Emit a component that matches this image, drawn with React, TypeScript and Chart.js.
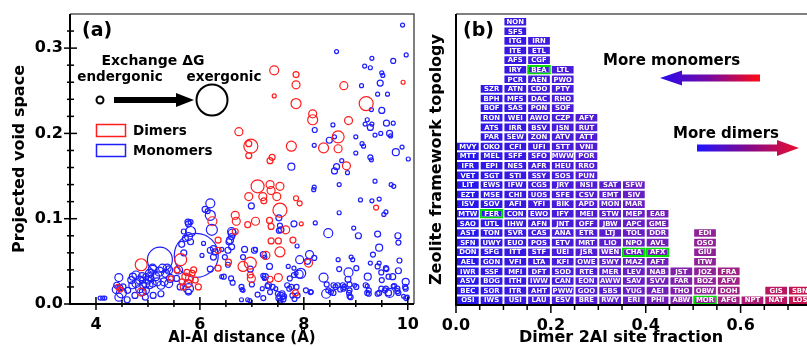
import React, { useEffect, useRef } from 'react';
import { Chart, registerables } from 'chart.js';

Chart.register(...registerables);

const FONT = '"DejaVu Sans", "Liberation Sans", sans-serif';

// ---------------- Panel (a) data ----------------
const aXMajorTicks = [4, 6, 8, 10];
const aYMajorTicks = [0, 0.1, 0.2, 0.3];
const aXMin = 3.5;
const aXMax = 10.12;
const aYMin = 0;
const aYMax = 0.34;

// [Al-Al distance, projected void space, bubble radius]
const dimers: [number, number, number][] = [
  [7.43, 0.274, 4.5], [7.85, 0.269, 3], [7.85, 0.257, 4], [8.77, 0.256, 4], [9.91, 0.26, 2],
  [7.43, 0.244, 2], [7.85, 0.235, 5], [9.2, 0.235, 7], [8.17, 0.223, 4], [8.17, 0.216, 5],
  [8.86, 0.215, 4], [6.75, 0.202, 4], [8.66, 0.196, 6], [6.94, 0.188, 3], [6.98, 0.185, 7],
  [7.76, 0.185, 5], [8.38, 0.183, 5], [8.66, 0.182, 4], [6.94, 0.174, 3], [7.39, 0.172, 3],
  [7.35, 0.168, 3], [8.82, 0.162, 4], [7.11, 0.138, 6.5], [7.35, 0.14, 4], [7.37, 0.133, 4],
  [7.54, 0.138, 4], [7.48, 0.126, 4], [6.94, 0.126, 4], [7.21, 0.126, 4], [7.23, 0.121, 3],
  [7.85, 0.124, 2.5], [7.92, 0.118, 2.5], [7.54, 0.11, 7], [9.39, 0.113, 2.5], [6.68, 0.104, 4],
  [6.7, 0.097, 4], [6.92, 0.093, 3], [7.07, 0.097, 4], [7.34, 0.098, 3], [7.37, 0.091, 3],
  [7.65, 0.087, 4], [7.95, 0.094, 2], [6.68, 0.085, 3], [6.24, 0.097, 4.5], [7.37, 0.074, 3],
  [7.51, 0.074, 3], [7.79, 0.075, 3], [7.54, 0.061, 5], [7.27, 0.057, 4], [6.83, 0.044, 5],
  [6.97, 0.048, 6], [6.55, 0.049, 3], [8.09, 0.048, 4], [6.99, 0.03, 4], [6.97, 0.034, 3],
  [7.35, 0.029, 3], [7.51, 0.031, 4], [7.84, 0.013, 3], [6.35, 0.075, 3], [6.35, 0.063, 3],
  [6.35, 0.042, 3], [4.42, 0.02, 2.5], [4.47, 0.017, 2.5], [4.87, 0.046, 6], [4.87, 0.014, 4],
  [5.63, 0.052, 6], [5.85, 0.036, 3], [5.72, 0.032, 3.5], [5.91, 0.028, 3], [5.78, 0.024, 3.5],
  [5.97, 0.02, 3], [5.66, 0.026, 3], [5.88, 0.04, 3], [5.56, 0.04, 3], [5.44, 0.03, 2.5],
  [5.8, 0.03, 4], [5.75, 0.037, 3], [5.68, 0.02, 3],
];

const monomers: [number, number, number][] = [
  [9.9, 0.327, 2], [8.63, 0.296, 2], [9.97, 0.292, 2], [9.31, 0.288, 2], [9.72, 0.285, 2.5],
  [9.17, 0.279, 2], [9.28, 0.277, 2], [9.5, 0.271, 2], [9.52, 0.268, 2], [9.11, 0.256, 2],
  [9.47, 0.259, 3], [9.42, 0.246, 2], [9.61, 0.246, 2], [9.3, 0.228, 2], [9.5, 0.227, 3],
  [9.22, 0.216, 2], [9.18, 0.211, 2], [9.31, 0.211, 2], [9.28, 0.207, 3], [9.59, 0.212, 3],
  [9.72, 0.212, 2], [8.56, 0.21, 2], [8.21, 0.204, 2.5], [9.37, 0.198, 2], [9.48, 0.2, 2],
  [9.65, 0.2, 3], [9.67, 0.197, 2], [8.59, 0.196, 2], [8.49, 0.192, 3], [9.0, 0.196, 2],
  [8.2, 0.186, 2], [9.12, 0.188, 2], [9.15, 0.185, 2], [9.89, 0.184, 2], [9.0, 0.177, 2],
  [9.77, 0.178, 3.5], [10.01, 0.17, 2], [9.28, 0.172, 2.5], [9.3, 0.169, 2], [8.73, 0.168, 2],
  [8.63, 0.161, 3], [8.59, 0.156, 3], [7.76, 0.161, 3.5], [8.84, 0.154, 2],
  [8.2, 0.137, 2], [8.19, 0.134, 2], [8.68, 0.14, 2], [9.37, 0.144, 2], [9.68, 0.14, 2],
  [9.73, 0.138, 2], [9.09, 0.122, 2], [9.31, 0.121, 2], [9.45, 0.123, 2], [6.99, 0.115, 3],
  [9.58, 0.108, 2], [9.54, 0.105, 2], [8.68, 0.107, 2], [7.54, 0.092, 2.5], [7.56, 0.087, 3],
  [7.81, 0.094, 3], [8.22, 0.095, 2], [8.47, 0.083, 4.5], [8.96, 0.089, 2], [9.05, 0.08, 3],
  [9.42, 0.082, 3], [9.45, 0.066, 3.5], [9.81, 0.08, 3], [9.82, 0.072, 2.5], [7.52, 0.101, 3],
  [7.52, 0.086, 2.5], [6.61, 0.085, 4], [6.61, 0.079, 3], [6.56, 0.073, 3], [6.54, 0.063, 3],
  [7.87, 0.068, 2], [6.86, 0.064, 3], [7.07, 0.064, 2], [7.22, 0.058, 3], [7.25, 0.055, 2],
  [7.34, 0.044, 3], [7.92, 0.052, 4], [8.66, 0.052, 2], [8.91, 0.055, 2], [8.94, 0.052, 2],
  [6.97, 0.041, 3], [7.7, 0.044, 2], [7.81, 0.042, 2], [7.91, 0.035, 4], [8.68, 0.041, 2.5],
  [8.86, 0.037, 4.5], [9.42, 0.044, 2.5], [9.23, 0.032, 3.5], [9.49, 0.037, 2.5], [9.5, 0.028, 2.5],
  [9.59, 0.041, 2.5], [9.63, 0.032, 2.5], [9.71, 0.032, 3], [9.82, 0.039, 3], [9.96, 0.026, 3.5],
  [9.01, 0.042, 2.5], [9.33, 0.058, 2.5], [9.28, 0.048, 2], [9.45, 0.048, 2], [9.58, 0.042, 2.5],
  [9.84, 0.051, 2.5], [8.11, 0.058, 4], [8.2, 0.054, 2.5], [8.07, 0.05, 3], [8.85, 0.029, 3],
  [7.22, 0.033, 2.5], [7.24, 0.03, 2], [7.73, 0.03, 2.5], [7.81, 0.034, 2.5], [7.85, 0.036, 2],
  [8.38, 0.031, 4.5], [8.44, 0.023, 2.5], [8.57, 0.022, 2.5], [8.61, 0.02, 2.5], [8.75, 0.022, 2.5],
  [8.78, 0.02, 2.5], [8.43, 0.012, 4.5], [8.52, 0.014, 2.5], [8.57, 0.013, 2.5], [8.88, 0.023, 2.5],
  [8.88, 0.016, 2.5], [8.88, 0.009, 2.5], [9.01, 0.02, 2.5], [9.22, 0.021, 2], [9.25, 0.016, 2.5],
  [9.25, 0.012, 2.5], [9.45, 0.013, 2.5], [9.58, 0.018, 2.5], [9.65, 0.013, 4.5], [9.74, 0.021, 2.5],
  [9.8, 0.018, 2.5], [9.82, 0.013, 2.5], [9.95, 0.02, 2.5], [9.97, 0.007, 2.5], [8.14, 0.014, 2],
  [8.47, 0.016, 2.5], [8.65, 0.022, 2.5], [8.7, 0.017, 2.5], [8.76, 0.018, 2.5], [8.87, 0.013, 2.5],
  [8.9, 0.008, 2.5], [8.98, 0.022, 2], [9.19, 0.022, 2.5], [9.22, 0.013, 2.5], [9.42, 0.012, 2.5],
  [9.49, 0.018, 2.5], [9.56, 0.016, 2.5], [9.63, 0.013, 3], [9.72, 0.021, 2], [9.8, 0.015, 2.5],
  [9.96, 0.018, 2.5], [9.92, 0.009, 2], [9.99, 0.008, 2],
  [6.8, 0.02, 2.5], [6.81, 0.017, 2], [6.92, 0.005, 2], [6.96, 0.004, 2], [7.11, 0.011, 2.5],
  [7.22, 0.007, 2.5], [7.3, 0.021, 2.5], [7.4, 0.02, 2.5], [7.35, 0.014, 2.5], [7.46, 0.018, 2],
  [7.56, 0.009, 4], [7.52, 0.007, 3], [7.58, 0.012, 3], [7.6, 0.006, 3], [7.5, 0.012, 2.5],
  [7.55, 0.004, 2.5], [7.62, 0.009, 2.5], [7.68, 0.022, 2.5], [7.72, 0.018, 2.5], [7.76, 0.02, 2.5],
  [7.86, 0.02, 2.5], [7.78, 0.01, 2.5], [7.82, 0.006, 2.5], [7.88, 0.01, 2.5], [8.13, 0.014, 2.5],
  [7.94, 0.036, 5], [6.42, 0.064, 2], [6.42, 0.032, 2], [6.83, 0.016, 2], [6.8, 0.005, 2],
  [7.2, 0.018, 2], [7.32, 0.022, 3], [7.0, 0.023, 2.5], [7.26, 0.032, 3], [8.04, 0.016, 2.5],
  [7.05, 0.063, 3], [6.83, 0.055, 2.5],
  [4.08, 0.007, 2], [4.13, 0.007, 2], [4.17, 0.007, 2], [4.44, 0.031, 4], [4.4, 0.022, 3],
  [4.46, 0.019, 3], [4.39, 0.017, 4], [4.49, 0.013, 5], [4.44, 0.008, 4], [4.52, 0.02, 3],
  [4.61, 0.016, 3], [4.68, 0.028, 3.5], [4.71, 0.032, 3.5], [4.77, 0.034, 4], [4.7, 0.022, 3.5],
  [4.77, 0.024, 4], [4.84, 0.028, 4], [4.89, 0.032, 4], [4.84, 0.018, 4], [4.91, 0.022, 3.5],
  [4.96, 0.024, 4], [4.99, 0.028, 4], [5.03, 0.032, 4], [4.9, 0.014, 3.5], [4.96, 0.016, 3.5],
  [4.9, 0.028, 3], [4.96, 0.032, 3], [5.03, 0.036, 4], [5.09, 0.04, 4.5], [5.15, 0.032, 4],
  [5.22, 0.038, 4.5], [5.28, 0.042, 4], [5.34, 0.036, 4], [5.4, 0.04, 4], [5.43, 0.03, 4],
  [5.4, 0.024, 4], [5.31, 0.026, 4], [5.25, 0.022, 4], [5.18, 0.026, 4], [5.09, 0.024, 3.5],
  [5.03, 0.022, 3.5], [5.06, 0.03, 3], [5.23, 0.052, 12.5], [5.09, 0.042, 4], [5.37, 0.042, 4],
  [5.93, 0.057, 22], [5.78, 0.094, 3], [5.77, 0.096, 3], [5.82, 0.096, 2.5], [5.82, 0.085, 5],
  [5.69, 0.085, 2.5], [5.72, 0.077, 3], [5.78, 0.079, 4], [5.82, 0.073, 3], [5.65, 0.07, 3],
  [5.69, 0.06, 3], [6.2, 0.118, 4.5], [6.1, 0.111, 3], [6.15, 0.109, 2.5], [6.2, 0.104, 5],
  [6.23, 0.087, 5.5], [6.07, 0.071, 2], [6.04, 0.057, 2], [6.2, 0.063, 3], [6.26, 0.065, 3],
  [6.29, 0.061, 3], [6.26, 0.055, 3], [6.2, 0.041, 3], [6.62, 0.083, 4], [6.58, 0.075, 3.5],
  [6.61, 0.067, 3], [6.48, 0.055, 2.5], [6.54, 0.046, 2.5], [6.46, 0.032, 2.5], [6.6, 0.03, 2.5],
  [6.63, 0.025, 2.5], [5.77, 0.024, 4], [5.78, 0.018, 5], [5.59, 0.04, 4], [5.78, 0.014, 3],
  [5.55, 0.03, 3], [5.62, 0.02, 3], [5.25, 0.012, 3], [5.1, 0.01, 3], [4.95, 0.008, 3],
  [4.6, 0.005, 3], [4.75, 0.01, 3],
];

// ---------------- Panel (b) data ----------------
const binWidth = 0.05;
const bXMajorTicks = [0, 0.2, 0.4, 0.6];
const bXMin = 0;
const bXMax = 0.74;
const bYMax = 30.3;
// zeolite codes per dimer-fraction bin, listed bottom to top
const bin000 = ['OSI', 'BEC', 'ASV', 'IWR', 'AEL', 'DON', 'SFN', 'AST', 'SAO', 'MTW', 'ISV', 'EZT', 'LIT', 'VET', 'IFR', 'MTT', 'MVY'];
const bin005 = ['IWS', 'SOR', 'BOG', 'SSF', 'GON', 'SFG', 'UWY', 'TON', 'UTL', 'FER', 'SOV', 'MSE', 'EWS', 'SGT', 'EPI', 'MEL', 'OKO', 'PAR', 'ATS', 'RON', 'BOF', 'BPH', 'SZR'];
const bin010 = ['USI', 'ITR', 'ITH', 'MFI', 'VFI', 'ITT', 'EUO', 'SVR', 'IHW', 'CON', 'AFI', 'CHI', 'IFW', 'STI', 'NES', 'SFF', 'CFI', 'SEW', 'IRR', 'WEI', 'SAS', 'MFS', 'ATN', 'PCR', 'IRY', 'AFS', 'ITE', 'ITG', 'SFS', 'NON'];
const bin015 = ['LAU', 'AHT', 'IWW', 'DFT', 'LTA', 'STF', 'POS', 'CAS', 'AFN', 'EWO', 'YFI', 'UOS', 'CGS', 'SSY', 'AFR', 'SFO', 'UFI', 'ZON', 'BSV', 'AWO', 'PON', 'DAC', 'CDO', 'AEN', 'BEA', 'CGF', 'ETL', 'IRN'];
const bin020 = ['ESV', 'PWW', 'CAN', 'SOD', 'KFI', 'UEI', 'ETV', 'ANA', 'JNT', 'IFY', 'BIK', 'SFE', 'JRY', 'SOS', 'HEU', 'MWW', 'STT', 'ATV', 'JSN', 'CZP', 'SOF', 'RHO', 'PTY', 'PWO', 'LTL'];
const bin025 = ['BRE', 'GOO', 'EON', 'RTE', 'OWE', 'JSR', 'MRT', 'ETR', 'OFF', 'MEI', 'APD', 'CSV', 'NSI', 'PUN', 'RRO', 'POR', 'VNI', 'ATT', 'RUT', 'AFY'];
const bin030 = ['RWY', 'SBS', 'AWW', 'MER', 'SWY', 'WEN', 'LIO', 'LTJ', 'JBW', 'STW', 'MON', 'EMT', 'SAT'];
const bin035 = ['ERI', 'YUG', 'SAV', 'LEV', 'MAZ', 'CHA', 'NPO', 'TOL', 'APC', 'MEP', 'MAR', 'SIV', 'SFW'];
const bin040 = ['PHI', 'AEI', 'SVV', 'NAB', 'AFT', 'AFX', 'AVL', 'DDR', 'GME', 'EAB'];
const bin045 = ['ABW', 'THO', 'FAR', 'JST'];
const bin050 = ['MOR', 'OBW', 'BOZ', 'JOZ', 'ITW', 'GIU', 'OSO', 'EDI'];
const bin055 = ['AFG', 'DOH', 'AFV', 'FRA'];
const bin060 = ['NPT'];
const bin065 = ['NAT', 'GIS'];
const bin070 = ['LOS', 'SBN'];
const bins = [bin000, bin005, bin010, bin015, bin020, bin025, bin030, bin035, bin040, bin045, bin050, bin055, bin060, bin065, bin070];
const highlighted = ['BEA', 'FER', 'CHA', 'AFX', 'MOR'];

// colour stops for the fraction → colour map
const colorStops: [number, number[]][] = [
  [0, [36, 22, 238]],
  [0.3, [86, 28, 210]],
  [0.45, [120, 32, 180]],
  [0.55, [152, 35, 142]],
  [0.75, [205, 15, 70]],
];

function colorFor(f: number) {
  for (let i = 1; i < colorStops.length; i++) {
    const [f1, c1] = colorStops[i];
    const [f0, c0] = colorStops[i - 1];
    if (f <= f1 || i === colorStops.length - 1) {
      const t = Math.max(0, Math.min(1, (f - f0) / (f1 - f0)));
      const c = c0.map((v, k) => Math.round(v + (c1[k] - v) * t));
      return `rgb(${c[0]},${c[1]},${c[2]})`;
    }
  }
  return 'blue';
}

const isMajor = (v: number, majors: number[]) => majors.some((m) => Math.abs(m - v) < 1e-6);

// ---------------- Plugins ----------------
const frameA = {
  id: 'frameA',
  afterDraw(chart: any) {
    const { ctx, chartArea, scales } = chart;
    const { left, right, top, bottom } = chartArea;
    ctx.save();
    ctx.strokeStyle = '#555';
    ctx.lineWidth = 1.5;
    ctx.beginPath();
    ctx.moveTo(left, top);
    ctx.lineTo(right, top);
    ctx.lineTo(right, bottom);
    ctx.stroke();
    ctx.strokeStyle = '#000';
    ctx.lineWidth = 2;
    ctx.beginPath();
    ctx.moveTo(left, top);
    ctx.lineTo(left, bottom);
    ctx.lineTo(right, bottom);
    ctx.stroke();
    ctx.lineWidth = 1.5;
    scales.x.ticks.forEach((t: any) => {
      const px = scales.x.getPixelForValue(t.value);
      const major = isMajor(t.value, aXMajorTicks);
      ctx.beginPath();
      ctx.moveTo(px, bottom - (major ? 7 : 4));
      ctx.lineTo(px, bottom + (major ? 6 : 3));
      ctx.stroke();
    });
    scales.y.ticks.forEach((t: any) => {
      const py = scales.y.getPixelForValue(t.value);
      const major = isMajor(t.value, aYMajorTicks);
      ctx.beginPath();
      ctx.moveTo(left - (major ? 6 : 3), py);
      ctx.lineTo(left + (major ? 7 : 4), py);
      ctx.stroke();
    });

    // annotations / legend
    ctx.fillStyle = '#000';
    ctx.textBaseline = 'middle';
    ctx.textAlign = 'left';
    ctx.font = `bold 19px ${FONT}`;
    ctx.fillText('(a)', 82, 31);
    ctx.textAlign = 'center';
    ctx.font = `bold 14px ${FONT}`;
    ctx.fillText('Exchange ΔG', 153, 61);
    ctx.font = `bold 13.5px ${FONT}`;
    ctx.fillText('endergonic', 120, 77);
    ctx.fillText('exergonic', 224, 77);
    ctx.lineWidth = 2;
    ctx.strokeStyle = '#000';
    ctx.beginPath();
    ctx.arc(100, 100, 3.5, 0, Math.PI * 2);
    ctx.stroke();
    ctx.beginPath();
    ctx.arc(212, 100, 15.5, 0, Math.PI * 2);
    ctx.stroke();
    ctx.fillRect(114, 97, 64, 6);
    ctx.beginPath();
    ctx.moveTo(176, 93);
    ctx.lineTo(194, 100);
    ctx.lineTo(176, 107);
    ctx.closePath();
    ctx.fill();
    ctx.lineWidth = 1.5;
    ctx.strokeStyle = 'rgb(255,30,30)';
    ctx.strokeRect(96.5, 124.5, 29, 12);
    ctx.strokeStyle = 'rgb(30,30,255)';
    ctx.strokeRect(96.5, 144.5, 29, 12);
    ctx.textAlign = 'left';
    ctx.font = `bold 13.5px ${FONT}`;
    ctx.fillText('Dimers', 133, 131);
    ctx.fillText('Monomers', 133, 151);
    ctx.restore();
  },
};

const cellLabels = {
  id: 'cellLabels',
  afterDatasetsDraw(chart: any) {
    const { ctx } = chart;
    const meta = chart.getDatasetMeta(0);
    const data = chart.data.datasets[0].data as any[];
    ctx.save();
    ctx.fillStyle = '#fff';
    ctx.font = `bold 6.9px ${FONT}`;
    ctx.textAlign = 'center';
    ctx.textBaseline = 'middle';
    meta.data.forEach((el: any, i: number) => {
      ctx.fillText(data[i].code, el.x, (el.y + el.base) / 2 + 0.5);
    });
    ctx.restore();
  },
};

function drawArrow(ctx: any, x0: number, x1: number, y: number, thick: number, headLen: number, headHalf: number, leftTip: boolean) {
  ctx.beginPath();
  if (leftTip) {
    ctx.moveTo(x0, y);
    ctx.lineTo(x0 + headLen, y - headHalf);
    ctx.lineTo(x0 + headLen, y - thick / 2);
    ctx.lineTo(x1, y - thick / 2);
    ctx.lineTo(x1, y + thick / 2);
    ctx.lineTo(x0 + headLen, y + thick / 2);
    ctx.lineTo(x0 + headLen, y + headHalf);
  } else {
    ctx.moveTo(x1, y);
    ctx.lineTo(x1 - headLen, y - headHalf);
    ctx.lineTo(x1 - headLen, y - thick / 2);
    ctx.lineTo(x0, y - thick / 2);
    ctx.lineTo(x0, y + thick / 2);
    ctx.lineTo(x1 - headLen, y + thick / 2);
    ctx.lineTo(x1 - headLen, y + headHalf);
  }
  ctx.closePath();
  ctx.fill();
}

const frameB = {
  id: 'frameB',
  afterDraw(chart: any) {
    const { ctx, chartArea, scales, width } = chart;
    const { left, top, bottom } = chartArea;
    ctx.save();
    ctx.strokeStyle = '#555';
    ctx.lineWidth = 1.5;
    ctx.beginPath();
    ctx.moveTo(left, top);
    ctx.lineTo(width, top);
    ctx.stroke();
    ctx.strokeStyle = '#000';
    ctx.lineWidth = 2;
    ctx.beginPath();
    ctx.moveTo(left, top);
    ctx.lineTo(left, bottom);
    ctx.lineTo(width, bottom);
    ctx.stroke();
    ctx.lineWidth = 1.5;
    scales.x.ticks.forEach((t: any) => {
      const px = scales.x.getPixelForValue(t.value);
      const major = isMajor(t.value, bXMajorTicks);
      ctx.beginPath();
      ctx.moveTo(px, bottom);
      ctx.lineTo(px, bottom + (major ? 8 : 5));
      ctx.stroke();
    });

    ctx.fillStyle = '#000';
    ctx.textBaseline = 'middle';
    ctx.textAlign = 'center';
    ctx.font = `bold 16px ${FONT}`;
    ctx.fillText('Dimer 2Al site fraction', 197, 338);
    ctx.textAlign = 'left';
    ctx.font = `bold 19px ${FONT}`;
    ctx.fillText('(b)', 39, 31);
    ctx.font = `bold 15px ${FONT}`;
    ctx.fillText('More monomers', 179, 61);
    ctx.fillText('More dimers', 249, 134);

    let g = ctx.createLinearGradient(236, 0, 336, 0);
    g.addColorStop(0, 'rgb(40,10,240)');
    g.addColorStop(0.5, 'rgb(120,10,160)');
    g.addColorStop(1, 'rgb(255,10,20)');
    ctx.fillStyle = g;
    drawArrow(ctx, 236, 336, 78, 7, 22, 7.5, true);

    g = ctx.createLinearGradient(273, 0, 375, 0);
    g.addColorStop(0, 'rgb(30,20,255)');
    g.addColorStop(0.5, 'rgb(130,10,140)');
    g.addColorStop(1, 'rgb(235,15,45)');
    ctx.fillStyle = g;
    drawArrow(ctx, 273, 375, 148, 7, 22, 8, false);
    ctx.restore();
  },
};

// ---------------- Components ----------------
function PanelA() {
  const ref = useRef<HTMLCanvasElement>(null);
  useEffect(() => {
    const xTickValues: number[] = [];
    for (let k = 8; k <= 20; k++) xTickValues.push(k / 2);
    const yTickValues: number[] = [];
    for (let k = 0; k <= 16; k++) yTickValues.push(Math.round(k * 2) / 100);
    const chart = new Chart(ref.current!, {
      type: 'bubble',
      data: {
        datasets: [
          {
            label: 'Dimers',
            data: dimers.map(([x, y, r]) => ({ x, y, r })),
            backgroundColor: 'rgba(0,0,0,0)',
            borderColor: 'rgb(255,30,30)',
            borderWidth: 1.2,
            clip: 0,
          },
          {
            label: 'Monomers',
            data: monomers.map(([x, y, r]) => ({ x, y, r })),
            backgroundColor: 'rgba(0,0,0,0)',
            borderColor: 'rgb(30,30,255)',
            borderWidth: 1.2,
            clip: 0,
          },
        ],
      },
      options: {
        animation: false,
        responsive: false,
        devicePixelRatio: 1,
        layout: { autoPadding: false, padding: { left: 0, top: 14, right: 6, bottom: 0 } },
        plugins: { legend: { display: false }, tooltip: { enabled: false } },
        scales: {
          x: {
            type: 'linear',
            min: aXMin,
            max: aXMax,
            afterBuildTicks: (axis: any) => {
              axis.ticks = xTickValues.map((value) => ({ value }));
            },
            afterFit: (axis: any) => {
              axis.height = 43;
            },
            ticks: {
              autoSkip: false,
              maxRotation: 0,
              padding: 5,
              color: '#000',
              font: { family: FONT, size: 16, weight: 'bold' },
              callback: (v: any) => (isMajor(Number(v), aXMajorTicks) ? String(v) : ''),
            },
            grid: { display: true, drawOnChartArea: false, tickLength: 6, tickColor: 'rgba(0,0,0,0)' },
            border: { display: false },
            title: {
              display: true,
              text: 'Al-Al distance (Å)',
              color: '#000',
              font: { family: FONT, size: 15, weight: 'bold' },
              padding: { top: 0, bottom: 0 },
            },
          },
          y: {
            type: 'linear',
            min: aYMin,
            max: aYMax,
            afterBuildTicks: (axis: any) => {
              axis.ticks = yTickValues.map((value) => ({ value }));
            },
            afterFit: (axis: any) => {
              axis.width = 70;
            },
            ticks: {
              autoSkip: false,
              padding: 2,
              color: '#000',
              font: { family: FONT, size: 16, weight: 'bold' },
              callback: (v: any) => (isMajor(Number(v), aYMajorTicks) ? Number(v).toFixed(1) : ''),
            },
            grid: { display: true, drawOnChartArea: false, tickLength: 5, tickColor: 'rgba(0,0,0,0)' },
            border: { display: false },
            title: {
              display: true,
              text: 'Projected void space',
              color: '#000',
              font: { family: FONT, size: 16, weight: 'bold' },
              padding: { top: 10, bottom: 0 },
            },
          },
        },
      } as any,
      plugins: [frameA],
    });
    return () => chart.destroy();
  }, []);
  return <canvas ref={ref} width={424} height={347} style={{ position: 'absolute', left: 0, top: 0 }} />;
}

function PanelB() {
  const ref = useRef<HTMLCanvasElement>(null);
  useEffect(() => {
    const cells: any[] = [];
    bins.forEach((codes, c) => {
      const x = c * binWidth + binWidth / 2;
      codes.forEach((code, row) => {
        cells.push({ x, y: [row, row + 1], code });
      });
    });
    const xTickValues: number[] = [];
    for (let k = 0; k <= 14; k++) xTickValues.push(Math.round(k * 5) / 100);
    const chart = new Chart(ref.current!, {
      type: 'bar',
      data: {
        datasets: [
          {
            data: cells,
            backgroundColor: (ctx: any) => colorFor(ctx.raw ? ctx.raw.x : 0),
            borderColor: (ctx: any) =>
              ctx.raw && highlighted.includes(ctx.raw.code) ? 'rgb(0,220,0)' : 'rgba(255,255,255,0.55)',
            borderWidth: (ctx: any) => (ctx.raw && highlighted.includes(ctx.raw.code) ? 2 : 1),
            borderSkipped: false,
            inflateAmount: 0,
            barPercentage: 1,
            categoryPercentage: 1,
          },
        ],
      },
      options: {
        animation: false,
        responsive: false,
        devicePixelRatio: 1,
        layout: { autoPadding: false, padding: { left: 0, top: 14, right: 0, bottom: 0 } },
        plugins: { legend: { display: false }, tooltip: { enabled: false } },
        scales: {
          x: {
            type: 'linear',
            min: bXMin,
            max: bXMax,
            offset: false,
            afterBuildTicks: (axis: any) => {
              axis.ticks = xTickValues.map((value) => ({ value }));
            },
            afterFit: (axis: any) => {
              axis.height = 42;
            },
            ticks: {
              autoSkip: false,
              maxRotation: 0,
              padding: 5,
              color: '#000',
              font: { family: FONT, size: 16, weight: 'bold' },
              callback: (v: any) => (isMajor(Number(v), bXMajorTicks) ? Number(v).toFixed(1) : ''),
            },
            grid: { display: true, drawOnChartArea: false, tickLength: 6, tickColor: 'rgba(0,0,0,0)' },
            border: { display: false },
            title: { display: false },
          },
          y: {
            type: 'linear',
            min: 0,
            max: bYMax,
            afterFit: (axis: any) => {
              axis.width = 32;
            },
            ticks: { display: false },
            grid: { display: false },
            border: { display: false },
            title: {
              display: true,
              text: 'Zeolite framework topology',
              color: '#000',
              font: { family: FONT, size: 16, weight: 'bold' },
              padding: { top: 3, bottom: 0 },
            },
          },
        },
      } as any,
      plugins: [cellLabels, frameB],
    });
    return () => chart.destroy();
  }, []);
  return <canvas ref={ref} width={383} height={347} style={{ position: 'absolute', left: 424, top: 0 }} />;
}

export default function App() {
  return (
    <div style={{ position: 'absolute', left: 0, top: 0, width: 807, height: 347, background: '#fff', overflow: 'hidden' }}>
      <PanelA />
      <PanelB />
    </div>
  );
}
